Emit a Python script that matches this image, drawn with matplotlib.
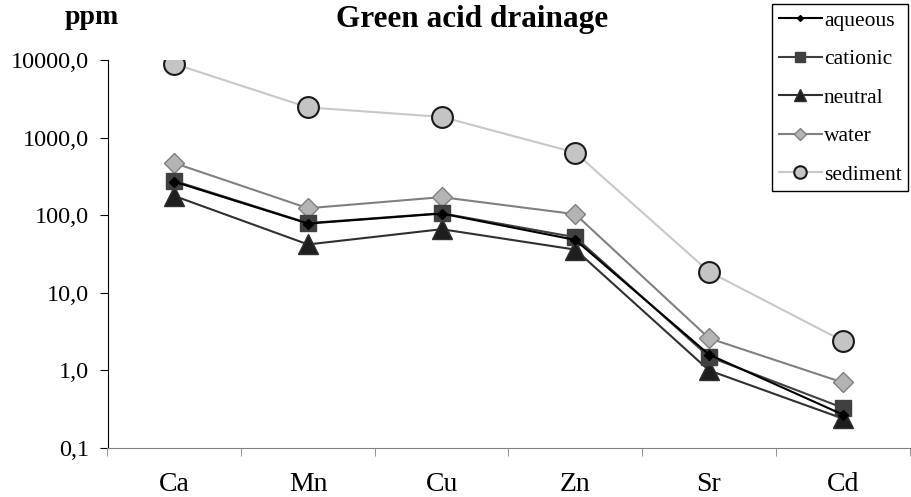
import matplotlib
matplotlib.use("Agg")
import matplotlib.pyplot as plt
import numpy as np
from matplotlib.ticker import FixedLocator, FuncFormatter

plt.rcParams['font.family'] = ['Liberation Serif', 'DejaVu Serif']

elements = ['Ca', 'Mn', 'Cu', 'Zn', 'Sr', 'Cd']
aqueous = [270, 78, 105, 48, 1.6, 0.27]
cationic = [277, 79, 106, 52, 1.5, 0.33]
neutral = [177, 42, 66, 36, 1.0, 0.24]
water = [470, 123, 171, 103, 2.6, 0.70]
sediment = [8900, 2450, 1850, 640, 18.7, 2.4]

x = np.arange(len(elements))

fig = plt.figure(figsize=(9.11, 4.97), dpi=100)
ax = fig.add_axes([107.5/911, 1 - 448/497, 802/911, 388/497])

ax.plot(x, sediment, color='#c8c8c8', lw=1.5, marker='o', ms=15,
        mfc='#c4c4c4', mec='#1a1a1a', mew=1.5, label='sediment', zorder=2)
ax.plot(x, water, color='#808080', lw=1.5, marker='D', ms=10,
        mfc='#b4b4b4', mec='#808080', mew=1, label='water', zorder=3)
ax.plot(x, neutral, color='#303030', lw=1.5, marker='^', ms=14,
        mfc='#1e1e1e', mec='#303030', label='neutral', zorder=4)
ax.plot(x, cationic, color='#404040', lw=1.5, marker='s', ms=12,
        mfc='#404040', mec='#404040', label='cationic', zorder=5)
ax.plot(x, aqueous, color='#000000', lw=1.5, marker='D', ms=5,
        mfc='#000000', mec='#000000', label='aqueous', zorder=6)

ax.set_yscale('log')
ax.set_ylim(0.1, 10000)
ax.set_xlim(-0.5, len(elements) - 0.5)
ax.yaxis.set_major_locator(FixedLocator([0.1, 1, 10, 100, 1000, 10000]))
ax.yaxis.set_minor_locator(FixedLocator([]))
ax.yaxis.set_major_formatter(FuncFormatter(lambda v, p: f"{v:.1f}".replace('.', ',')))
ax.set_xticks(x)
ax.set_xticklabels(elements)
ax.set_xticks(np.arange(-0.5, len(elements)), minor=True)
ax.tick_params(axis='x', which='major', length=0, labelsize=20, pad=17)
ax.tick_params(axis='x', which='minor', length=6, color='#808080')
ax.tick_params(axis='y', which='major', length=5.5, labelsize=17.5, pad=8)

ax.spines['top'].set_visible(False)
ax.spines['right'].set_visible(False)
ax.spines['bottom'].set_color('#808080')
ax.spines['left'].set_color('#000000')

fig.text(92/911, 1 - 17/497, 'ppm', fontsize=20, fontweight='bold', ha='center', va='center')
fig.text(472/911, 1 - 19/497, 'Green acid drainage', fontsize=22.5, fontweight='bold',
         ha='center', va='center')

h, l = ax.get_legend_handles_labels()
order = [4, 3, 2, 1, 0]
leg = fig.legend([h[i] for i in order], [l[i] for i in order], loc='upper right',
                 bbox_to_anchor=(908/911, 1 - 4/497), fontsize=15.5, markerscale=0.6,
                 frameon=True, fancybox=False, edgecolor='#000000', framealpha=1,
                 handlelength=2.0, handletextpad=0.1, borderpad=0.3, labelspacing=0.86,
                 borderaxespad=0)
leg.get_frame().set_linewidth(1.0)

fig.savefig('out.png', dpi=100)
